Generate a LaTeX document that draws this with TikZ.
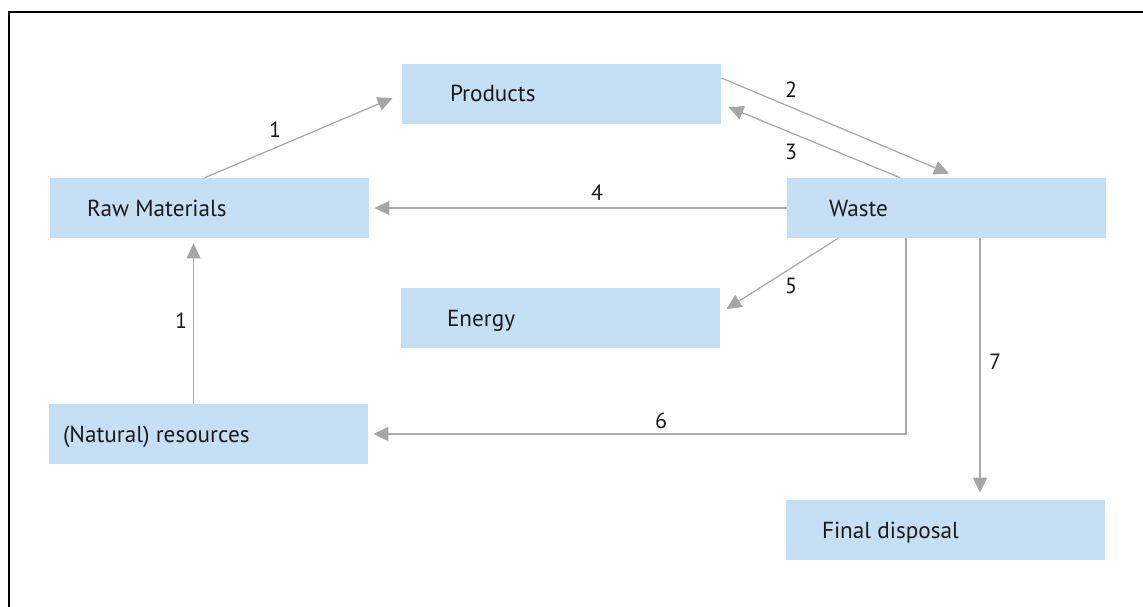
\documentclass[tikz,border=0pt]{standalone}
\usepackage{fontspec}
\setmainfont{PT Sans}
\usetikzlibrary{arrows.meta,calc}
\definecolor{boxblue}{HTML}{C5DFF5}
\definecolor{linegray}{HTML}{ABABAB}
\definecolor{tipgray}{HTML}{A6A6A6}
\definecolor{txt}{HTML}{1A1A1A}
\tikzset{
  stepbox/.style={rectangle,fill=boxblue,draw=none,minimum width=159.5pt,minimum height=30pt,inner sep=0pt},
  boxtext/.style={anchor=base west,inner sep=0pt,text=txt,font=\fontsize{11.6pt}{13pt}\selectfont},
  numtext/.style={inner sep=0pt,text=txt,font=\fontsize{11pt}{12pt}\selectfont},
  conn/.style={draw=linegray,line width=0.65pt,-{Triangle[length=7.5pt,width=7pt,fill=tipgray,color=tipgray]}},
}
\begin{document}
\begin{tikzpicture}[x=0.5pt,y=-0.5pt]
\useasboundingbox (0,0) rectangle (1143,606);
\draw[line width=0.8pt,black] (9,620) -- (9,12) -- (1160,12);
% boxes
\node[stepbox] (products) at (561.5,94) {};
\node[stepbox] (raw) at (209.5,208) {};
\node[stepbox] (waste) at (946.5,208) {};
\node[stepbox] (energy) at (560.5,318) {};
\node[stepbox] (natural) at (208.5,434) {};
\node[stepbox] (final) at (945.5,530) {};
% box texts
\node[boxtext] (tproducts) at ([shift={(48,7)}]products.west) {Products};
\node[boxtext] (traw) at ([shift={(37,8)}]raw.west) {Raw Materials};
\node[boxtext] (twaste) at ([shift={(42,8)}]waste.west) {Waste};
\node[boxtext] (tenergy) at ([shift={(46,8)}]energy.west) {Energy};
\node[boxtext] (tnatural) at ([shift={(14,8)}]natural.west) {(Natural) resources};
\node[boxtext] (tfinal) at ([shift={(36,8)}]final.west) {Final disposal};
% connectors
\draw[conn] ([shift={(-4.5,0)}]raw.north) -- ([shift={(-9,4)}]products.west);
\draw[conn] ([shift={(0,-16)}]products.east) -- ([shift={(2.5,-4)}]waste.north);
\draw[conn] ([shift={(-46.5,0)}]waste.north) -- ([shift={(7,13)}]products.east);
\draw[conn] (waste.west) -- ([shift={(5,0)}]raw.east);
\draw[conn] ([shift={(-108.5,0)}]waste.south) -- ([shift={(6,-9)}]energy.east);
\draw[conn] ([shift={(-40.5,0)}]waste.south) |- ([shift={(5,0)}]natural.east);
\draw[conn] ([shift={(33.5,0)}]waste.south) -- ([shift={(34.5,-7)}]final.north);
\draw[conn] ([shift={(-15,0)}]natural.north) -- ([shift={(-16,5)}]raw.south);
% labels
\node[numtext] (n1a) at (275,130) {1};
\node[numtext] (n2) at (791,90) {2};
\node[numtext] (n3) at (791,152) {3};
\node[numtext] (n4) at (597,193) {4};
\node[numtext] (n5) at (791,286) {5};
\node[numtext] (n6) at (661,421) {6};
\node[numtext] (n7) at (995,362) {7};
\node[numtext] (n1b) at (181,321) {1};
\end{tikzpicture}
\end{document}
